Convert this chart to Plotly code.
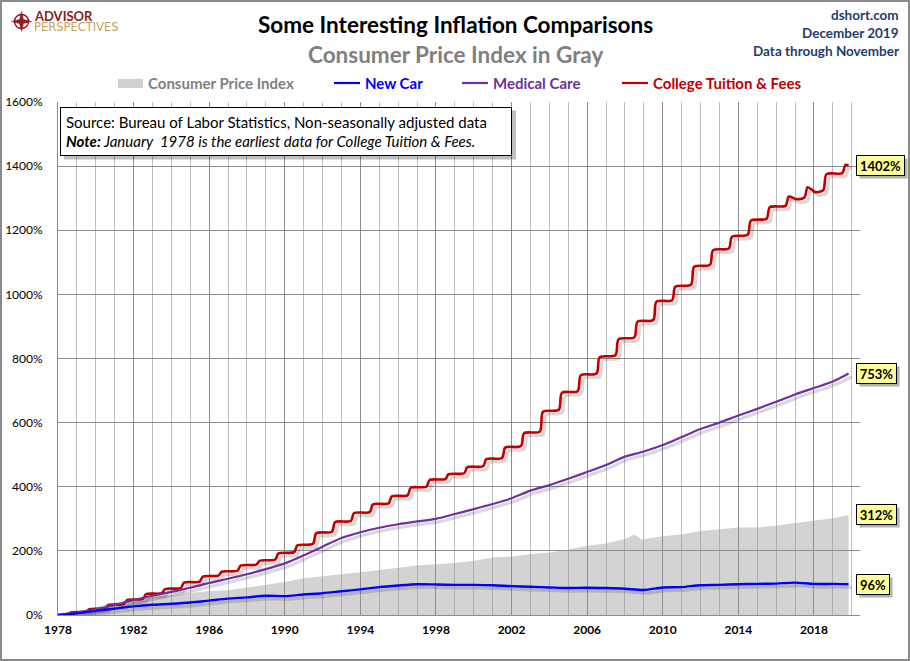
import plotly.graph_objects as go
import pandas as pd

# ---------------- data (percent change since January 1978) ----------------
annual_dates = [
    "1978-01", "1979-01", "1980-01", "1981-01", "1982-01", "1983-01", "1984-01",
    "1985-01", "1986-01", "1987-01", "1988-01", "1989-01", "1990-01", "1991-01",
    "1992-01", "1993-01", "1994-01", "1995-01", "1996-01", "1997-01", "1998-01",
    "1999-01", "2000-01", "2001-01", "2002-01", "2003-01", "2004-01", "2005-01",
    "2006-01", "2007-01", "2008-01", "2009-01", "2010-01", "2011-01", "2012-01",
    "2013-01", "2014-01", "2015-01", "2016-01", "2017-01", "2018-01", "2019-01",
    "2019-11",
]
medical_care = [0, 8, 18, 31, 47, 60, 72, 85, 100, 113, 127, 143, 161, 186,
                213, 240, 258, 272, 283, 292, 300, 315, 330, 346, 364, 388,
                405, 425, 446, 468, 494, 510, 530, 555, 580, 600, 622, 643,
                665, 688, 708, 728, 753]
new_car = [0, 5, 13, 20, 27, 32, 35, 39, 45, 51, 55, 60, 59, 64, 68, 74, 80,
           87, 92, 96, 95, 94, 94, 93, 90, 88, 86, 84, 85, 84, 82, 78, 86, 87,
           93, 94, 96, 97, 98, 101, 97, 97, 96]

cpi_dates = [
    "1978-01", "1979-01", "1980-01", "1981-01", "1982-01", "1983-01", "1984-01",
    "1985-01", "1986-01", "1987-01", "1988-01", "1989-01", "1990-01", "1991-01",
    "1992-01", "1993-01", "1994-01", "1995-01", "1996-01", "1997-01", "1998-01",
    "1999-01", "2000-01", "2001-01", "2002-01", "2003-01", "2004-01", "2005-01",
    "2006-01", "2007-01", "2008-01", "2008-07", "2008-12", "2009-01", "2010-01",
    "2011-01", "2012-01", "2013-01", "2014-01", "2015-01", "2016-01", "2017-01",
    "2018-01", "2019-01", "2019-11",
]
cpi = [0, 8, 24, 39, 50, 56, 63, 68, 75, 77, 85, 93, 103, 115, 120, 127, 133,
       140, 146, 154, 158, 162, 169, 179, 182, 190, 195, 204, 216, 223, 237,
       251, 235, 237, 246, 251, 262, 267, 273, 273, 278, 287, 295, 302, 312]

tuition_dates = [
    "1978-01",
    "1978-07", "1978-09", "1979-07", "1979-09", "1980-07", "1980-09",
    "1981-07", "1981-09", "1982-07", "1982-09", "1983-07", "1983-09",
    "1984-07", "1984-09", "1985-07", "1985-09", "1986-07", "1986-09",
    "1987-07", "1987-09", "1988-07", "1988-09", "1989-07", "1989-09",
    "1990-07", "1990-09", "1991-07", "1991-09", "1992-07", "1992-09",
    "1993-07", "1993-09", "1994-07", "1994-09", "1995-07", "1995-09",
    "1996-07", "1996-09", "1997-07", "1997-09", "1998-07", "1998-09",
    "1999-07", "1999-09", "2000-07", "2000-09", "2001-07", "2001-09",
    "2002-07", "2002-09", "2003-07", "2003-09", "2004-07", "2004-09",
    "2005-07", "2005-09", "2006-07", "2006-09", "2007-07", "2007-09",
    "2008-07", "2008-09", "2009-07", "2009-09", "2010-07", "2010-09",
    "2011-07", "2011-09", "2012-07", "2012-09", "2013-07", "2013-09",
    "2014-07", "2014-09", "2015-07", "2015-09", "2016-07", "2016-09",
    "2017-02", "2017-07", "2017-09", "2018-02", "2018-07", "2018-09",
    "2019-07", "2019-09", "2019-11",
]
tuition = [
    0,
    1, 8, 10, 18, 21, 31,
    34, 47, 50, 65, 68, 81,
    84, 101, 104, 120, 123, 135,
    138, 154, 157, 169, 173, 192,
    196, 217, 222, 255, 260, 290,
    293, 318, 321, 345, 348, 370,
    373, 397, 400, 421, 424, 439,
    442, 461, 464, 486, 490, 522,
    527, 567, 572, 634, 640, 693,
    698, 748, 753, 804, 810, 860,
    866, 915, 920, 977, 982, 1024,
    1030, 1086, 1092, 1138, 1143, 1180,
    1186, 1230, 1236, 1272, 1276, 1305,
    1297, 1302, 1334, 1319, 1325, 1375,
    1378, 1404, 1402,
]

x_tick_start = "1978-01-01"
x_range = ["1978-01-01", "2020-06-09"]
y_range = [0, 1600]

# ---------------- styling ----------------
FONT = "Lato"
W, H = 910, 661
ML, MR, MT, MB = 58, 50, 102, 46
PW, PH = W - ML - MR, H - MT - MB


def fx(px):
    return (px - ML) / PW


def fy(py):
    return (H - MB - py) / PH


RED, PURPLE, BLUE, GRAYFILL = "#c00000", "#7030a0", "#0000ff", "rgba(150,150,150,0.42)"
SHADOW = "rgba(0,0,0,0.15)"

series = [
    (tuition_dates, tuition, RED, 2.6),
    (annual_dates, medical_care, PURPLE, 2.2),
    (annual_dates, new_car, BLUE, 2.4),
]

fig = go.Figure()

# CPI area (main axes)
fig.add_trace(go.Scatter(x=cpi_dates, y=cpi, mode="lines", line=dict(width=0, color=GRAYFILL),
                         fill="tozeroy", fillcolor=GRAYFILL, showlegend=False, hoverinfo="skip"))

# shadows (axes shifted by 3px right / 3px down)
for xs, ys, col, w in series:
    fig.add_trace(go.Scatter(x=xs, y=ys, mode="lines", xaxis="x2", yaxis="y2",
                             line=dict(color=SHADOW, width=w + 1, shape="spline", smoothing=0.8),
                             showlegend=False, hoverinfo="skip"))
# main lines
for xs, ys, col, w in series:
    fig.add_trace(go.Scatter(x=xs, y=ys, mode="lines", xaxis="x3", yaxis="y3",
                             line=dict(color=col, width=w, shape="spline", smoothing=0.8),
                             showlegend=False))

x0 = pd.Timestamp(x_range[0])
x1 = pd.Timestamp(x_range[1])
span = x1 - x0
dt = span * (3 / PW)
dy = (y_range[1] - y_range[0]) * (3 / PH)

fig.update_layout(
    width=W, height=H,
    margin=dict(l=ML, r=MR, t=MT, b=MB, pad=0, autoexpand=False),
    paper_bgcolor="white", plot_bgcolor="white",
    font=dict(family=FONT, size=12, color="black"),
    showlegend=False,
    xaxis=dict(type="date", range=x_range, tick0=x_tick_start, dtick="M48", tickformat="%Y",
               automargin=False,
               showgrid=True, gridcolor="#8c8c8c", gridwidth=1, zeroline=False,
               minor=dict(dtick="M12", tick0=x_tick_start, showgrid=True, gridcolor="#bdbdbd", gridwidth=1),
               showline=True, linecolor="#8c8c8c", linewidth=1, ticks="",
               tickfont=dict(family=FONT, size=12, color="black", weight="bold"),
               ticklabelstandoff=4),
    yaxis=dict(range=y_range, dtick=200, ticksuffix="%", showgrid=True, gridcolor="#8c8c8c",
               automargin=False,
               gridwidth=1, zeroline=False, showline=True, linecolor="#8c8c8c", ticks="",
               tickfont=dict(family=FONT, size=12, color="black"), ticklabelstandoff=12),
    xaxis2=dict(type="date", overlaying="x", visible=False, automargin=False,
                range=[str(x0 - dt), str(x1 - dt)]),
    yaxis2=dict(overlaying="y", visible=False, automargin=False,
                range=[y_range[0] + dy, y_range[1] + dy]),
    xaxis3=dict(type="date", overlaying="x", visible=False, automargin=False, range=x_range),
    yaxis3=dict(overlaying="y", visible=False, automargin=False, range=y_range),
)

ann = []
shapes = []

# outer border
shapes.append(dict(type="rect", xref="paper", yref="paper", x0=fx(1), x1=fx(909), y0=fy(660), y1=fy(1),
                   line=dict(color="#8a8a8a", width=2), fillcolor="rgba(0,0,0,0)"))

# titles
ann.append(dict(text="<b>Some Interesting Inflation Comparisons</b>", x=fx(455), y=fy(25),
                xref="paper", yref="paper", showarrow=False, xanchor="center", yanchor="middle",
                font=dict(family=FONT, size=22.5, color="black")))
ann.append(dict(text="<b>Consumer Price Index in Gray</b>", x=fx(455), y=fy(54),
                xref="paper", yref="paper", showarrow=False, xanchor="center", yanchor="middle",
                font=dict(family=FONT, size=22.5, color="#808080")))
for txt, yy in [("dshort.com", 15), ("December 2019", 33), ("Data through November", 51)]:
    ann.append(dict(text=f"<b>{txt}</b>", x=fx(901), y=fy(yy), xref="paper", yref="paper",
                    showarrow=False, xanchor="right", yanchor="middle",
                    font=dict(family=FONT, size=13.5, color="#1f3d6b")))

# logo
ann.append(dict(text="<b>ADVISOR</b>", x=fx(32), y=fy(16.5), xref="paper", yref="paper", showarrow=False,
                xanchor="left", yanchor="middle", font=dict(family=FONT, size=13, color="#8b1c22")))
ann.append(dict(text="PERSPECTIVES", x=fx(32), y=fy(26.5), xref="paper", yref="paper", showarrow=False,
                xanchor="left", yanchor="middle", font=dict(family="DejaVu Sans", size=11.5, color="#c3a15f")))
cx, cy, r = 21.5, 21.5, 7
shapes.append(dict(type="circle", xref="paper", yref="paper", x0=fx(cx - r), x1=fx(cx + r),
                   y0=fy(cy + r), y1=fy(cy - r), line=dict(color="#8b1c22", width=1.5)))
pts = [(cx, cy - 10), (cx + 2, cy - 2), (cx + 10, cy), (cx + 2, cy + 2), (cx, cy + 10),
       (cx - 2, cy + 2), (cx - 10, cy), (cx - 2, cy - 2)]
path = "M " + " L ".join(f"{fx(a):.5f},{fy(b):.5f}" for a, b in pts) + " Z"
shapes.append(dict(type="path", xref="paper", yref="paper", path=path, fillcolor="#8b1c22",
                   line=dict(color="#8b1c22", width=0.5)))

# manual legend
leg_y = 83
shapes.append(dict(type="rect", xref="paper", yref="paper", x0=fx(118), x1=fx(143), y0=fy(88), y1=fy(79),
                   fillcolor="#d0d0d0", line=dict(width=0)))
for (lx0, lx1, col) in [(334, 360, BLUE), (462, 488, PURPLE), (622, 648, RED)]:
    shapes.append(dict(type="line", xref="paper", yref="paper", x0=fx(lx0), x1=fx(lx1),
                       y0=fy(leg_y), y1=fy(leg_y), line=dict(color=col, width=2.2)))
for txt, tx, col in [("Consumer Price Index", 146, "#808080"), ("New Car", 363, BLUE),
                     ("Medical Care", 491, PURPLE), ("College Tuition &amp; Fees", 651, RED)]:
    ann.append(dict(text=f"<b>{txt}</b>", x=fx(tx), y=fy(leg_y), xref="paper", yref="paper",
                    showarrow=False, xanchor="left", yanchor="middle",
                    font=dict(family=FONT, size=15, color=col)))

# source box with shadow (shadow is a shape drawn above the traces, below annotations)
src_text = ("Source: Bureau of Labor Statistics, Non-seasonally adjusted data<br>"
            "<b><i>Note:</i></b><i> January  1978 is the earliest data for College Tuition &amp; Fees.</i>")
bx0, bx1, by0, by1 = 60, 512, 106.5, 155.5
shapes.append(dict(type="rect", xref="paper", yref="paper", layer="above",
                   x0=fx(bx0 + 4), x1=fx(bx1 + 4), y0=fy(by1 + 4), y1=fy(by0 + 4),
                   fillcolor="rgba(0,0,0,0.25)", line=dict(width=0)))
ann.append(dict(text=src_text, x=fx(bx0), y=fy(by0), xref="paper", yref="paper", showarrow=False,
                xanchor="left", yanchor="top", align="left",
                width=bx1 - bx0 - 12, height=by1 - by0 - 12,
                font=dict(family=FONT, size=15, color="black"),
                bgcolor="white", bordercolor="black", borderwidth=1, borderpad=5))

# end-value labels (yellow boxes with a drop shadow)
label_widths = {5: 43, 4: 35, 3: 28}
for xs, ys in [(tuition_dates, tuition), (annual_dates, medical_care), (cpi_dates, cpi),
               (annual_dates, new_car)]:
    txt = f"{ys[-1]}%"
    wbox = label_widths[len(txt)]
    for sh in (True, False):
        off = 3 if sh else 0
        ann.append(dict(text="&nbsp;" if sh else f"<b>{txt}</b>", x=xs[-1], y=ys[-1],
                        xref="x", yref="y", showarrow=False,
                        xanchor="left", yanchor="middle", xshift=7 + off, yshift=-off,
                        width=wbox, height=15,
                        font=dict(family=FONT, size=13, color="black"),
                        bgcolor="rgba(0,0,0,0.3)" if sh else "#ffff99",
                        bordercolor="rgba(0,0,0,0)" if sh else "black", borderwidth=1, borderpad=2))

fig.update_layout(annotations=ann, shapes=shapes)
fig.write_html("out.html", config={"displayModeBar": False},
               post_script="document.body.style.margin='0px';document.body.style.overflow='hidden';")
